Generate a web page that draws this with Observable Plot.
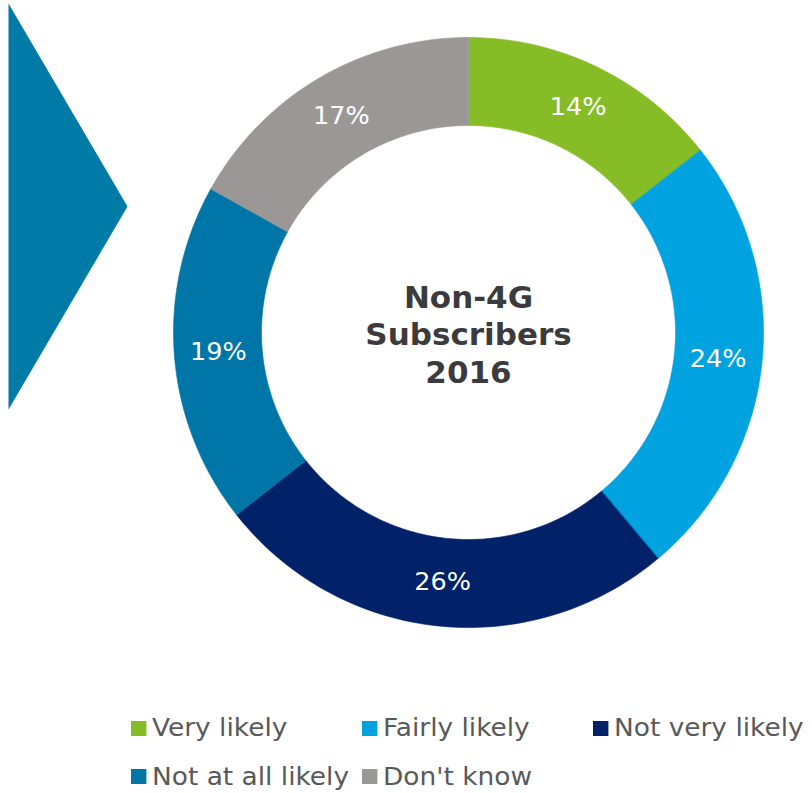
<!DOCTYPE html>
<html>
<head>
<meta charset="utf-8">
<script src="https://cdn.jsdelivr.net/npm/d3@7"></script>
<script src="https://cdn.jsdelivr.net/npm/@observablehq/plot@0.6"></script>
<style>
  html, body { margin: 0; padding: 0; background: #fff; }
  #wrap { width: 812px; height: 793px; position: relative; overflow: hidden; }
  #chart svg { display: block; }
  #legend { position: relative; width: 812px; height: 93px; }
  .item { position: absolute; display: flex; align-items: center; transform: scaleX(1.1); transform-origin: 0 50%;
          font-family: "DejaVu Sans", Verdana, sans-serif; font-size: 24px; color: #58595b; white-space: nowrap; line-height: 1; }
  .sw { width: 13.6px; height: 15px; margin-right: 5.5px; flex: none; }
</style>
</head>
<body>
<div id="wrap">
  <div id="chart"></div>
  <div id="legend"></div>
</div>
<script>
// ---- data ----
const categories = ["Very likely", "Fairly likely", "Not very likely", "Not at all likely", "Don't know"];
const values = [14.4, 24.5, 25.5, 18.7, 16.9];
// percentages printed on the slices
const labelValues = [14, 24, 26, 19, 17];
const colors = ["#86bc25", "#00a3e0", "#012169", "#0076a8", "#9b9797"];
const centerTitle = ["Non-4G", "Subscribers", "2016"];
const labelSuffix = "%";

// ---- layout (chart units: outer radius = 1) ----
const W = 812, H = 700;
const Rpx = 295, cx = 468, cy = 332;
const innerR = 207 / 295;
const labelR = 251 / 295;

const pie = d3.pie().sort(null).value(d => d)(values);
const arcPts = [];
pie.forEach((p, i) => {
  const n = 80;
  for (let k = 0; k <= n; k++) {
    const a = p.startAngle + (p.endAngle - p.startAngle) * k / n;
    arcPts.push({cat: categories[i], x: Math.sin(a), y: -Math.cos(a)});
  }
  for (let k = n; k >= 0; k--) {
    const a = p.startAngle + (p.endAngle - p.startAngle) * k / n;
    arcPts.push({cat: categories[i], x: innerR * Math.sin(a), y: -innerR * Math.cos(a)});
  }
});
const labels = pie.map((p, i) => {
  const a = (p.startAngle + p.endAngle) / 2;
  return {cat: categories[i], x: labelR * Math.sin(a), y: -labelR * Math.cos(a), text: labelValues[i] + labelSuffix};
});

// decorative chevron on the left (pixel space, converted to chart units)
const chevronPx = [[8, 3], [127, 206], [8, 409]];
const chevron = chevronPx.map(([px, py]) => ({x: (px - cx) / Rpx, y: (py - cy) / Rpx}));

const xDomain = [-cx / Rpx, (W - cx) / Rpx];
const yDomain = [-cy / Rpx, (H - cy) / Rpx];

const chart = Plot.plot({
  width: W,
  height: H,
  margin: 0,
  style: {background: "white"},
  x: {domain: xDomain, range: [0, W], axis: null},
  y: {domain: yDomain, range: [0, H], axis: null},
  color: {domain: categories, range: colors},
  marks: [
    Plot.line(chevron, {x: "x", y: "y", fill: "#007ba8", stroke: "none", curve: "linear-closed"}),
    Plot.line(arcPts, {x: "x", y: "y", z: "cat", fill: "cat", stroke: "cat", strokeWidth: 0.6, curve: "linear-closed"}),
    Plot.text(labels, {x: "x", y: "y", text: "text", fill: "white", fontSize: 25.5,
      fontFamily: "DejaVu Sans, Verdana, sans-serif"}),
    Plot.text([centerTitle.join("\n")], {x: () => 0, y: () => 0.003, text: d => d, fill: "#3b3b3d",
      fontSize: 31, fontWeight: "bold", lineHeight: 1.21, fontFamily: "DejaVu Sans, Verdana, sans-serif"})
  ]
});
document.getElementById("chart").appendChild(chart);

// ---- legend ----
const legend = document.getElementById("legend");
const colX = [131, 362, 593];
const rowY = [28, 76.5];
categories.forEach((c, i) => {
  const col = i % 3;
  const row = Math.floor(i / 3);
  const it = document.createElement("div");
  it.className = "item";
  it.style.left = colX[col] + "px";
  it.style.top = (rowY[row] - 12) + "px";
  it.style.height = "24px";
  const sw = document.createElement("span");
  sw.className = "sw";
  sw.style.background = colors[i];
  const tx = document.createElement("span");
  tx.textContent = c;
  it.appendChild(sw);
  it.appendChild(tx);
  legend.appendChild(it);
});
</script>
</body>
</html>
